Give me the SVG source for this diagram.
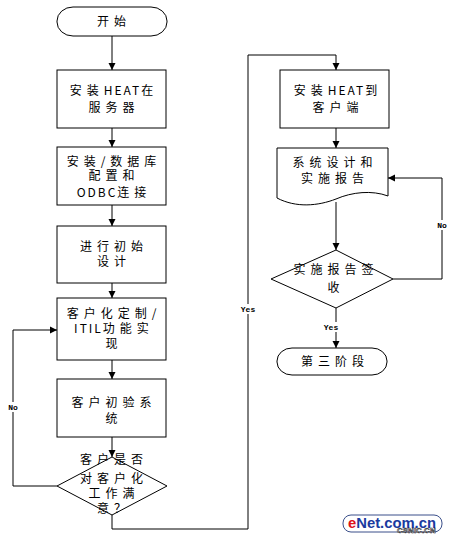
<svg xmlns="http://www.w3.org/2000/svg" width="450" height="540" viewBox="0 0 450 540">
<style>
.s{fill:#fff;stroke:#000;stroke-width:1}
.c{fill:none;stroke:#000;stroke-width:1}
.t{font-family:"Noto Sans CJK SC","Liberation Sans",sans-serif;font-size:12px;fill:#000;text-anchor:middle;letter-spacing:5px}
.l{font-family:"Liberation Mono",monospace;font-size:8px;font-weight:bold;fill:#000;text-anchor:middle}
.h{letter-spacing:2px}
</style>
<defs>
<marker id="a" markerWidth="8" markerHeight="8" refX="7" refY="4" orient="auto" markerUnits="userSpaceOnUse">
<path d="M0,0.5 L7,4 L0,7.5 Z" fill="#000"/>
</marker>
</defs>
<rect width="450" height="540" fill="#fff"/>
<g id="connectors">
<path class="c" d="M112,36 V70" marker-end="url(#a)"/>
<path class="c" d="M112,128 V147" marker-end="url(#a)"/>
<path class="c" d="M112,205 V226" marker-end="url(#a)"/>
<path class="c" d="M112,283 V298" marker-end="url(#a)"/>
<path class="c" d="M112,360 V379" marker-end="url(#a)"/>
<path class="c" d="M112,437 V457" marker-end="url(#a)"/>
<path class="c" d="M57,486 H13 V330 H57" marker-end="url(#a)"/>
<path class="c" d="M112,515 V529 H248 V55 H336 V70" marker-end="url(#a)"/>
<path class="c" d="M336,128 V148" marker-end="url(#a)"/>
<path class="c" d="M336,202 V250" marker-end="url(#a)"/>
<path class="c" d="M393,279 H442 V178 H388" marker-end="url(#a)"/>
<path class="c" d="M336,308 V348" marker-end="url(#a)"/>
<rect x="6" y="402" width="14" height="10" fill="#fff"/>
<text class="l" x="13" y="410">No</text>
<rect x="239" y="304" width="18" height="10" fill="#fff"/>
<text class="l" x="248" y="312">Yes</text>
<rect x="435" y="220" width="14" height="10" fill="#fff"/>
<text class="l" x="442" y="228">No</text>
<rect x="322" y="322" width="18" height="10" fill="#fff"/>
<text class="l" x="331" y="330">Yes</text>
</g>
<g id="start">
<rect class="s" x="57" y="7" width="110" height="29" rx="16" ry="14"/>
<text class="t" x="114" y="26">开始</text>
</g>
<g id="n1">
<rect class="s" x="57" y="70" width="109" height="58"/>
<text class="t" x="114" y="95">安装<tspan class="h">HEAT</tspan>在<tspan x="114" dy="17">服务器</tspan></text>
</g>
<g id="n2">
<rect class="s" x="57" y="147" width="109" height="58"/>
<text class="t" x="114" y="166">安装/数据库<tspan x="114" dy="14">配置和</tspan><tspan x="114" dy="17"><tspan class="h">ODBC</tspan>连接</tspan></text>
</g>
<g id="n3">
<rect class="s" x="57" y="226" width="109" height="57"/>
<text class="t" x="114" y="251">进行初始<tspan x="114" dy="15">设计</tspan></text>
</g>
<g id="n4">
<rect class="s" x="57" y="298" width="109" height="62"/>
<text class="t" x="114" y="318">客户化定制/<tspan x="114" dy="15"><tspan class="h">ITIL</tspan>功能实</tspan><tspan x="114" dy="15">现</tspan></text>
</g>
<g id="n5">
<rect class="s" x="57" y="379" width="109" height="58"/>
<text class="t" x="114" y="407">客户初验系<tspan x="114" dy="16">统</tspan></text>
</g>
<g id="d1">
<polygon class="s" points="112,457 167,486 112,515 57,486"/>
<text class="t" x="114" y="464">客户是否<tspan x="114" dy="19">对客户化</tspan><tspan x="114" dy="15">工作满</tspan><tspan x="114" dy="15">意？</tspan></text>
</g>
<g id="n6">
<rect class="s" x="280" y="70" width="109" height="58"/>
<text class="t" x="338" y="95">安装<tspan class="h">HEAT</tspan>到<tspan x="338" dy="17">客户端</tspan></text>
</g>
<g id="n7">
<path class="s" d="M277,148 H388 V196 C372,190 352,192 336,199 C318,206 296,208 277,198 Z"/>
<text class="t" x="335" y="167">系统设计和<tspan x="335" dy="16">实施报告</tspan></text>
</g>
<g id="d2">
<polygon class="s" points="336,250 393,279 336,308 271,279"/>
<text class="t" x="336" y="274">实施报告签<tspan x="336" dy="18">收</tspan></text>
</g>
<g id="end">
<rect class="s" x="277" y="348" width="110" height="27" rx="15" ry="13"/>
<text class="t" x="335" y="366">第三阶段</text>
</g>
<g id="watermark">
<rect x="343" y="515" width="99" height="17" rx="8" fill="#fff" stroke="#3a4f8a" stroke-width="1"/>
<text x="348" y="528" font-family="Liberation Sans,sans-serif" font-size="14" font-weight="bold" fill="#1a3aa0" textLength="88" lengthAdjust="spacingAndGlyphs"><tspan fill="#e0101a">e</tspan>Net.com.cn</text>
<text x="397" y="533" font-family="Liberation Sans,sans-serif" font-size="8" font-weight="bold" fill="#fff" stroke="#000" stroke-width="0.5">CSNIC.CN</text>
</g>
</svg>
